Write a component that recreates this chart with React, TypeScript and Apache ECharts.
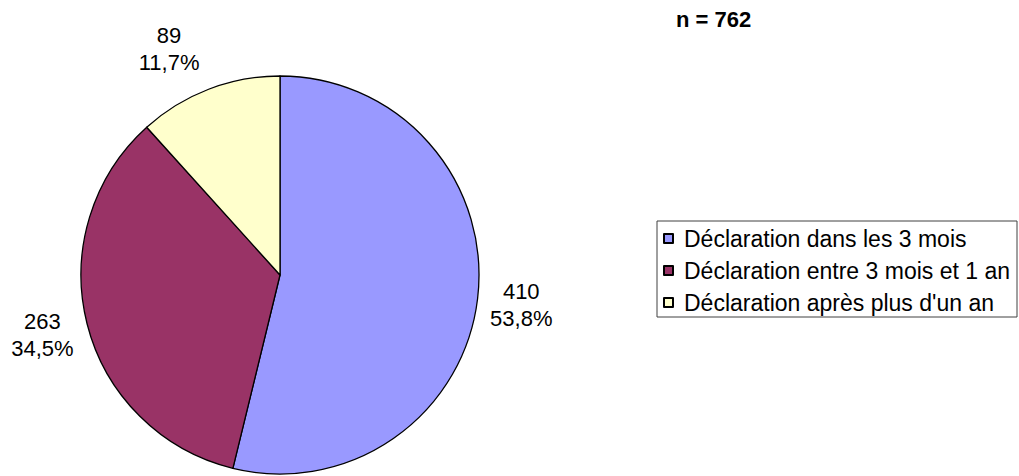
import React, { useEffect, useRef } from "react";
import * as echarts from "echarts";

const categories = [
  "Déclaration dans les 3 mois",
  "Déclaration entre 3 mois et 1 an",
  "Déclaration après plus d'un an",
];
const values = [410, 263, 89];
const colors = ["#9999FF", "#993366", "#FFFFCC"];
const titleText = "n = 762";

const FONT = "'Liberation Sans', Arial, sans-serif";

export default function App() {
  const ref = useRef<HTMLDivElement>(null);
  useEffect(() => {
    if (!ref.current) return;
    const chart = echarts.init(ref.current, undefined, { renderer: "svg" });
    const total = values.reduce((a, b) => a + b, 0);
    const labelOffsets: [number, number][] = [[-2, 1], [0, 0], [-23, 3]];
    chart.setOption({
      animation: false,
      backgroundColor: "#ffffff",
      title: {
        text: titleText,
        left: 676,
        top: 8,
        padding: 0,
        textStyle: { fontFamily: FONT, fontSize: 22, fontWeight: "bold", color: "#000" },
      },
      legend: {
        orient: "vertical",
        left: 657,
        top: 221,
        data: categories,
        icon: "rect",
        itemWidth: 9,
        itemHeight: 9,
        itemGap: 9,
        padding: [6, 7, 3, 6],
        borderColor: "#404040",
        borderWidth: 1,
        textStyle: {
          fontFamily: FONT,
          fontSize: 23,
          lineHeight: 23,
          color: "#000",
          padding: [0, 0, 0, 6],
        },
      },
      series: [
        {
          type: "pie",
          center: [280, 275],
          radius: 199,
          startAngle: 90,
          clockwise: true,
          label: { show: false },
          labelLine: { show: false },
          silent: true,
          itemStyle: { borderColor: "#000", borderWidth: 1.3 },
          data: categories.map((name, i) => ({
            name,
            value: values[i],
            itemStyle: { color: colors[i] },
          })),
        },
        {
          type: "pie",
          center: [280, 275],
          radius: [212, 272],
          startAngle: 90,
          clockwise: true,
          silent: true,
          labelLine: { show: false },
          itemStyle: { color: "rgba(0,0,0,0)" },
          label: {
            show: true,
            position: "inside",
            fontFamily: FONT,
            fontSize: 22,
            lineHeight: 27,
            color: "#000",
            formatter: (p: any) =>
              p.value + "\n" + ((p.value / total) * 100).toFixed(1).replace(".", ",") + "%",
          },
          data: categories.map((name, i) => ({
            name: name + " ",
            value: values[i],
            label: { offset: labelOffsets[i] },
          })),
        },
      ],
    });
    return () => chart.dispose();
  }, []);
  return (
    <div
      ref={ref}
      style={{ position: "fixed", left: 0, top: 0, width: 1019, height: 476 }}
    />
  );
}
